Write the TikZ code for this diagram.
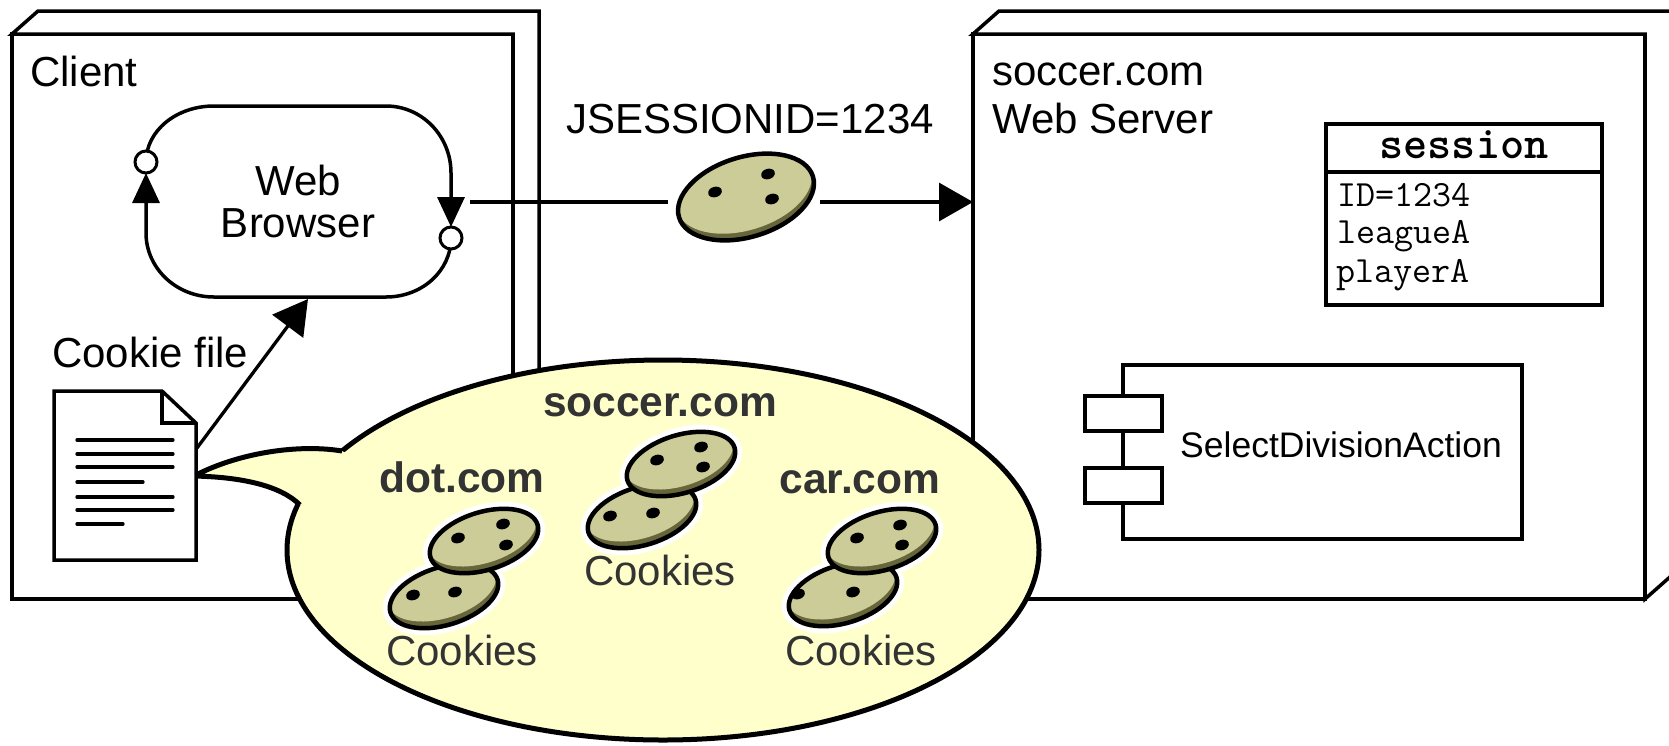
\documentclass[tikz,border=0pt]{standalone}
\usepackage{fontspec}
\setmainfont{Liberation Sans}
\usetikzlibrary{arrows.meta}
\definecolor{bubble}{HTML}{FFFFCC}
\definecolor{cookietop}{HTML}{CCCC99}
\definecolor{cookieside}{HTML}{66663A}
\definecolor{labelgray}{HTML}{333333}

% a cookie: centre x, centre y, x radius, y radius, holes (offsets from the centre)
\newcommand{\biscuit}[5]{%
  \begin{scope}[shift={(#1,#2)}]
    \begin{scope}[rotate=17]
      \fill[cookieside] (0,0) ellipse [x radius=#3pt,y radius=#4pt];
      \begin{scope}
        \clip (0,0) ellipse [x radius=#3pt,y radius=#4pt];
        \fill[cookietop] (0,-7) ellipse [x radius=#3pt,y radius=#4pt];
      \end{scope}
      \draw[line width=4.5pt] (0,0) ellipse [x radius=#3pt,y radius=#4pt];
    \end{scope}
    \foreach \hx/\hy in {#5}
      \fill[rotate around={17:(\hx,\hy)}] (\hx,\hy) ellipse [x radius=7pt,y radius=5.2pt];
  \end{scope}}
\newcommand{\halo}[2]{\draw[white,line width=14pt,rotate around={17:(#1,#2)}] (#1,#2) ellipse [x radius=56pt,y radius=29pt];}

\begin{document}
\begin{tikzpicture}[x=1pt,y=-1pt,>={Triangle[length=30pt,width=27pt]},
  every node/.style={inner sep=0pt},
  txt/.style={font=\fontsize{42}{48}\selectfont},
  dom/.style={font=\fontsize{42.5}{48}\selectfont\bfseries,text=labelgray},
  jar/.style={font=\fontsize{42}{48}\selectfont,text=labelgray},
  nodebox/.style={draw,line width=3.5pt,fill=white,line join=miter},
  browser/.style={line width=3.5pt},
  comp/.style={draw,line width=3.3pt,fill=white},
  wire/.style={line width=3.3pt}]
\useasboundingbox (0,0) rectangle (1669,745);

% client and server nodes
\draw[nodebox] (12,34) rectangle (513,599);
\draw[nodebox] (12,34) -- ++(26,-23) -- ++(501,0) -- ++(0,565) -- (513,599) -- (513,34) -- cycle;
\draw[nodebox] (973,34) rectangle (1645,599);
\draw[nodebox] (973,34) -- ++(26,-23) -- ++(672,0) -- ++(0,565) -- (1645,599) -- (1645,34) -- cycle;
\node[txt,anchor=base west] (client) at (30,86) {Client};
\node[txt,anchor=base west] (host) at (992,85) {soccer.com};
\node[txt,anchor=base west] (server) at (992,133) {Web Server};

% web browser
\coordinate (lport) at (146,162);
\coordinate (rport) at (451,238);
\draw[browser,->] (lport) .. controls (146,131) and (176,106) .. (214,106) -- (386,106)
  .. controls (422,106) and (451,136) .. (451,173) -- (451,227);
\draw[browser,->] (rport) .. controls (451,271) and (422,297) .. (386,297) -- (214,297)
  .. controls (176,297) and (146,268) .. (146,233) -- (146,173);
\draw[line width=3pt,fill=white] (lport) circle [radius=11pt];
\draw[line width=3pt,fill=white] (rport) circle [radius=11pt];
\node[txt,anchor=base] (web) at (298,195) {Web};
\node[txt,anchor=base] (browsername) at (298,237) {Browser};

% session cookie on its way to the server
\coordinate (send) at (470,202);
\coordinate (jin) at (668,202);
\coordinate (jout) at (820,202);
\coordinate (sport) at (973,202);
\draw[wire] (send) -- (jin);
\draw[wire,-{Triangle[length=34pt,width=38pt]}] (jout) -- (sport);
\biscuit{746}{197}{70}{40}{-31/-5,22/-23,26/2}
\node[txt,anchor=base] (jsid) at (750,133) {JSESSIONID=1234};

% session object
\draw[line width=4pt,fill=white] (1326,124) rectangle (1602,305);
\draw[line width=4pt] (1326,172) -- (1602,172);
\node[anchor=base,font=\fontsize{46}{46}\ttfamily\bfseries] (session) at (1464,158) {session};
\node[anchor=base west,font=\fontsize{37}{37}\ttfamily] (id) at (1337,206) {ID=1234};
\node[anchor=base west,font=\fontsize{37}{37}\ttfamily] (league) at (1337,243) {leagueA};
\node[anchor=base west,font=\fontsize{37}{37}\ttfamily] (player) at (1336,282) {playerA};

% component
\draw[comp] (1123,365) rectangle (1522,539);
\draw[comp] (1085,396) rectangle (1162,431);
\draw[comp] (1085,468) rectangle (1162,503);
\node[anchor=base west,font=\fontsize{35.5}{40}\selectfont] (action) at (1180,457) {SelectDivisionAction};

% speech bubble with the cookie jars
\filldraw[fill=bubble,line width=5pt] (663,550) ellipse [x radius=376pt,y radius=190pt];
\fill[bubble] (342,451) .. controls (300,444) and (240,452) .. (194,476)
  .. controls (240,477) and (280,485) .. (300,505) -- (340,500) -- (362,462) -- cycle;
\draw[line width=5pt,line join=miter] (342,451) .. controls (300,444) and (240,452) .. (194,476)
  .. controls (240,477) and (280,485) .. (300,505);

\halo{444}{596}\halo{484}{541}
\halo{642}{516}\halo{681}{464}
\halo{843}{594}\halo{882}{541}
\biscuit{444}{596}{56}{29}{-31/-1,11/-4}
\biscuit{484}{541}{56}{29}{-26/-3,19/-17,22/4}
\biscuit{642}{516}{56}{29}{-32/0,11/-3}
\biscuit{681}{464}{56}{29}{-24/-4,20/-17,22/3}
\biscuit{843}{594}{56}{29}{-45/0,10/-2}
\biscuit{882}{541}{56}{29}{-25/-3,18/-16,20/4}
\node[dom,anchor=base] (dotcom) at (462,492) {dot.com};
\node[dom,anchor=base] (soccercom) at (660,416) {soccer.com};
\node[dom,anchor=base] (carcom) at (860,493) {car.com};
\node[jar,anchor=base] (dotjar) at (462,665) {Cookies};
\node[jar,anchor=base] (soccerjar) at (660,585) {Cookies};
\node[jar,anchor=base] (carjar) at (861,665) {Cookies};

% cookie file
\draw[line width=3.5pt,fill=white,line join=miter] (54,391) -- (162,391) -- (196,423) -- (196,560) -- (54,560) -- cycle;
\draw[line width=3.5pt] (162,391) -- (162,423) -- (196,423);
\foreach \y/\e in {440/173,454/173,467/173,482/143,497/173,510/173,524/123}
  \draw[line width=3.3pt,line cap=round] (77,\y) -- (\e,\y);
\node[txt,anchor=base west] (cfile) at (52,367) {Cookie file};
\coordinate (docport) at (197,448);
\coordinate (bport) at (308,299);
\draw[wire,-{Triangle[length=34pt,width=38pt]}] (docport) -- (bport);
\end{tikzpicture}
\end{document}
